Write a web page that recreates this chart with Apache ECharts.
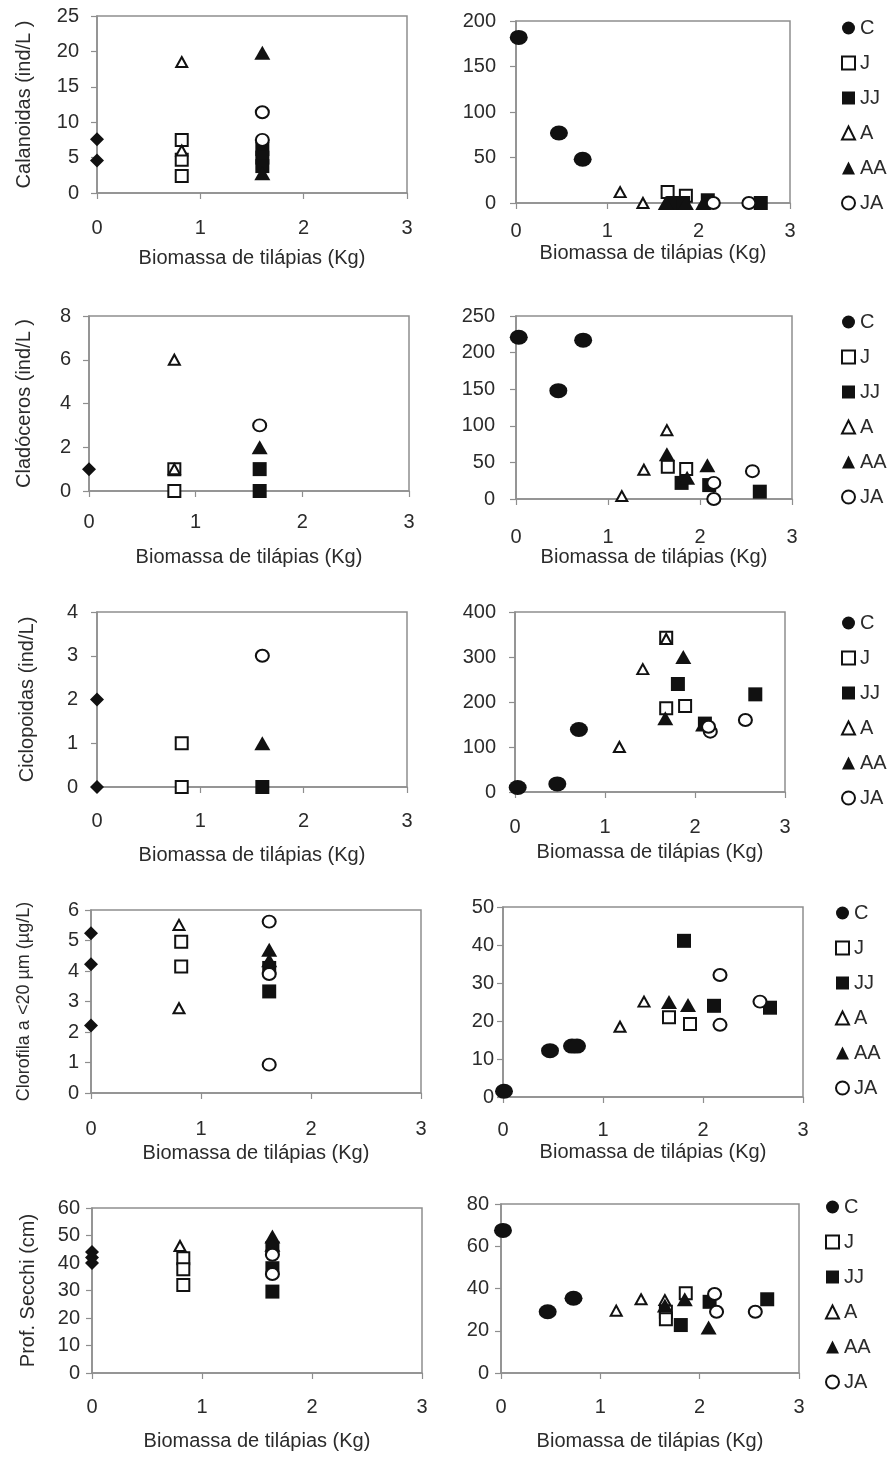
<!DOCTYPE html>
<html><head><meta charset="utf-8">
<script src="https://cdn.jsdelivr.net/npm/echarts@6/dist/echarts.min.js"></script>
<style>html,body{margin:0;padding:0;background:#fff}#c{width:890px;height:1457px}</style>
</head><body><div id="c"></div><script>
// ---------- DATA ----------
const groups = ['C', 'J', 'JJ', 'A', 'AA', 'JA'];
const xTickMax = 3;
const xTickStep = 1;
const xTitle = 'Biomassa de tilápias (Kg)';

// Calanoidas (ind/L)
const calanoidasL = {
  C: [[0, 7.6], [0, 4.6]],
  J: [[0.82, 7.5], [0.82, 4.7], [0.82, 2.4]],
  JJ: [[1.6, 6.2], [1.6, 5.0], [1.6, 3.8]],
  A: [[0.82, 18.5], [0.82, 6.0]],
  AA: [[1.6, 19.8], [1.6, 2.8]],
  JA: [[1.6, 11.4], [1.6, 7.5]]
};
const calanoidasR = {
  C: [[0.03, 182], [0.47, 77], [0.73, 48]],
  J: [[1.66, 12], [1.86, 8]],
  JJ: [[1.72, 0], [1.83, 0], [2.10, 3], [2.68, 0]],
  A: [[1.14, 12], [1.39, 0]],
  AA: [[1.64, 0], [1.86, 0], [2.05, 0]],
  JA: [[2.16, 0], [2.55, 0]]
};
// Cladóceros (ind/L)
const cladocerosL = {
  C: [[0, 1]],
  J: [[0.8, 1], [0.8, 0]],
  JJ: [[1.6, 1], [1.6, 0]],
  A: [[0.8, 6], [0.8, 1]],
  AA: [[1.6, 2]],
  JA: [[1.6, 3]]
};
const cladocerosR = {
  C: [[0.03, 221], [0.46, 148], [0.73, 217]],
  J: [[1.65, 44], [1.85, 41]],
  JJ: [[1.80, 22], [2.10, 19], [2.65, 10]],
  A: [[1.15, 4], [1.39, 40], [1.64, 94]],
  AA: [[1.64, 61], [1.86, 29], [2.08, 46]],
  JA: [[2.15, 22], [2.15, 0], [2.57, 38]]
};
// Ciclopoidas (ind/L)
const ciclopoidasL = {
  C: [[0, 2], [0, 0]],
  J: [[0.82, 1], [0.82, 0]],
  JJ: [[1.6, 0]],
  A: [],
  AA: [[1.6, 1]],
  JA: [[1.6, 3]]
};
const ciclopoidasR = {
  C: [[0.03, 10], [0.47, 18], [0.71, 139]],
  J: [[1.68, 343], [1.68, 186], [1.89, 191]],
  JJ: [[1.81, 240], [2.11, 152], [2.67, 217]],
  A: [[1.16, 100], [1.42, 273], [1.68, 340]],
  AA: [[1.67, 164], [1.87, 300], [2.09, 150]],
  JA: [[2.17, 134], [2.15, 145], [2.56, 160]]
};
// Clorofila a <20 µm (µg/L)
const clorofilaL = {
  C: [[0, 5.24], [0, 4.22], [0, 2.21]],
  J: [[0.82, 4.96], [0.82, 4.15]],
  JJ: [[1.62, 4.1], [1.62, 3.33]],
  A: [[0.8, 5.51], [0.8, 2.78]],
  AA: [[1.62, 4.7], [1.62, 4.35]],
  JA: [[1.62, 5.62], [1.62, 3.9], [1.62, 0.93]]
};
const clorofilaR = {
  C: [[0.01, 1.5], [0.47, 12.2], [0.69, 13.4], [0.74, 13.4]],
  J: [[1.66, 21], [1.87, 19.2]],
  JJ: [[1.81, 41.1], [2.11, 24], [2.67, 23.5]],
  A: [[1.17, 18.5], [1.41, 25.1]],
  AA: [[1.66, 25], [1.85, 24.2]],
  JA: [[2.17, 32.1], [2.17, 19], [2.57, 25.1]]
};
// Prof. Secchi (cm)
const secchiL = {
  C: [[0, 44], [0, 42], [0, 40]],
  J: [[0.83, 41.7], [0.83, 37.7], [0.83, 32]],
  JJ: [[1.64, 45.4], [1.64, 38.1], [1.64, 29.6]],
  A: [[0.8, 46.2]],
  AA: [[1.64, 49.6], [1.64, 46.6]],
  JA: [[1.64, 43], [1.64, 36]]
};
const secchiR = {
  C: [[0.02, 67.5], [0.47, 29], [0.73, 35.4]],
  J: [[1.66, 29], [1.66, 25.4], [1.86, 37.7]],
  JJ: [[1.81, 22.7], [2.10, 33.7], [2.68, 34.9]],
  A: [[1.16, 29.5], [1.41, 34.9], [1.65, 34.5]],
  AA: [[1.65, 32], [1.85, 34.9], [2.09, 21.5]],
  JA: [[2.15, 37.4], [2.17, 29], [2.56, 29]]
};

// y-axis scales
const yMaxes = [25, 200, 8, 250, 4, 400, 6, 50, 60, 80];
const ySteps = [5, 50, 2, 50, 1, 100, 1, 10, 10, 20];
const yTitles = ['Calanoidas (ind/L )', '', 'Cladóceros (ind/L )', '', 'Ciclopoidas (ind/L)', '',
  'Clorofila a <20 µm (µg/L)', '', 'Prof. Secchi (cm)', ''];

// ---------- LAYOUT / STYLE ----------
const FONT = '"Liberation Sans", Arial, sans-serif';
const INK = '#111';
const TXT = '#2b2b2b';
const AXIS = '#8e8e8e';

const panels = [
  { d: calanoidasL, side: 'L', g: [97, 16, 310, 177], yLM: 18, xLM: 25, xNG: 55, yNG: 63, yNF: 20, yNP: [0, 0, 0, 20] },
  { d: calanoidasR, side: 'R', g: [516, 21, 274, 182], yLM: 20, xLM: 18, xNG: 40, legend: [841, 18] },
  { d: cladocerosL, side: 'L', g: [89, 316, 320, 175], yLM: 18, xLM: 21, xNG: 56, yNG: 55, yNF: 20 },
  { d: cladocerosR, side: 'R', g: [516, 316, 276, 183], yLM: 21, xLM: 28, xNG: 48, legend: [841, 312] },
  { d: ciclopoidasL, side: 'L', g: [97, 612, 310, 175], yLM: 19, xLM: 24, xNG: 58, yNG: 60, yNF: 20 },
  { d: ciclopoidasR, side: 'R', g: [515, 612, 270, 180], yLM: 19, xLM: 25, xNG: 50, legend: [841, 613] },
  { d: clorofilaL, side: 'L', g: [91, 910, 330, 183], yLM: 12, xLM: 26, xNG: 50, yNG: 58, yNF: 18 },
  { d: clorofilaR, side: 'R', g: [503, 907, 300, 190], yLM: 9, xLM: 23, xNG: 45, legend: [835, 903] },
  { d: secchiL, side: 'L', g: [92, 1208, 330, 165], yLM: 12, xLM: 24, xNG: 58, yNG: 54, yNF: 20 },
  { d: secchiR, side: 'R', g: [501, 1204, 298, 169], yLM: 12, xLM: 24, xNG: 58, legend: [825, 1197] }
];

const markStyle = {
  C: { symbol: 'circle', size: [18, 15], open: false },
  J: { symbol: 'rect', size: 12, open: true },
  JJ: { symbol: 'rect', size: 14, open: false },
  A: { symbol: 'triangle', size: [11, 10], open: true },
  AA: { symbol: 'triangle', size: [16, 14], open: false },
  JA: { symbol: 'circle', size: [13, 12], open: true }
};
const diamondC = { symbol: 'diamond', size: 14, open: false };

const grid = [], xAxis = [], yAxis = [], series = [], legend = [];

panels.forEach((p, i) => {
  grid.push({ left: p.g[0], top: p.g[1], width: p.g[2], height: p.g[3],
    show: true, borderColor: AXIS, borderWidth: 1.5, backgroundColor: 'transparent',
    containLabel: false, outerBoundsMode: 'none' });
  xAxis.push({ gridIndex: i, type: 'value', min: 0, max: xTickMax, interval: xTickStep,
    name: xTitle, nameLocation: 'middle', nameGap: p.xNG,
    nameTextStyle: { fontFamily: FONT, fontSize: 20, color: TXT },
    axisLine: { show: true, onZero: false, lineStyle: { color: AXIS, width: 1.5 } },
    axisTick: { show: true, inside: false, length: 6, lineStyle: { color: AXIS, width: 1.2 } },
    axisLabel: { margin: p.xLM, fontFamily: FONT, fontSize: 20, color: TXT,
      showMinLabel: true, showMaxLabel: true },
    splitLine: { show: false } });
  yAxis.push({ gridIndex: i, type: 'value', min: 0, max: yMaxes[i], interval: ySteps[i],
    name: yTitles[i], nameLocation: 'middle', nameGap: p.yNG || 0,
    nameTextStyle: { fontFamily: FONT, fontSize: p.yNF || 20, color: TXT },
    axisLine: { show: true, onZero: false, lineStyle: { color: AXIS, width: 1.5 } },
    axisTick: { show: true, inside: false, length: 6, lineStyle: { color: AXIS, width: 1.2 } },
    axisLabel: { margin: p.yLM, fontFamily: FONT, fontSize: 20, color: TXT,
      showMinLabel: true, showMaxLabel: true },
    splitLine: { show: false } });
  groups.forEach(gname => {
    const st = (p.side === 'L' && gname === 'C') ? diamondC : markStyle[gname];
    series.push({
      type: 'scatter', name: p.side === 'R' ? gname : gname + ' ',
      xAxisIndex: i, yAxisIndex: i, clip: false, silent: true,
      symbol: st.symbol, symbolSize: st.size,
      itemStyle: st.open ? { color: '#fff', borderColor: INK, borderWidth: 2, opacity: 1 }
                         : { color: INK, borderWidth: 0, opacity: 1 },
      emphasis: { disabled: true },
      data: p.d[gname]
    });
  });
  if (p.legend) {
    legend.push({ show: true, orient: 'vertical', left: p.legend[0], top: p.legend[1],
      itemWidth: 13, itemHeight: 13, itemGap: 15, padding: 0,
      selectedMode: false,
      textStyle: { fontFamily: FONT, fontSize: 20, color: TXT },
      data: groups.slice() });
  }
});

const chart = echarts.init(document.getElementById('c'), null, { renderer: 'canvas' });
chart.setOption({ animation: false, backgroundColor: '#fff', grid, xAxis, yAxis, series, legend });
</script></body></html>
